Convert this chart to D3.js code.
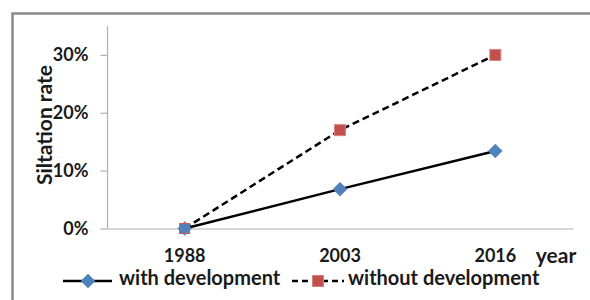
<!DOCTYPE html>
<html><head><meta charset="utf-8">
<script src="https://cdn.jsdelivr.net/npm/d3@7"></script>
<style>body{margin:0;background:#fff}svg{display:block}</style>
</head><body>
<script>
const years = ["1988", "2003", "2016"];
const withDev = [0, 0.068, 0.134];
const withoutDev = [0, 0.17, 0.30];
const yTicks = [0, 0.1, 0.2, 0.3];
const seriesNames = ["with development", "without development"];

const W = 590, H = 300;
const svg = d3.select("body").append("svg").attr("width", W).attr("height", H);
const font = "Lato, 'Open Sans', sans-serif";

// frame
svg.append("path").attr("d", `M12.5,${H} L12.5,13.5 L${W},13.5`)
  .attr("fill", "none").attr("stroke", "#8a8a8a").attr("stroke-width", 2.5);

const x = d3.scaleBand().domain(years).range([107, 573]);
const y = d3.scaleLinear().domain([0, 0.35]).range([228.5, 26]);
const cx = d => x(d) + x.bandwidth() / 2;

// y axis
const yAxis = svg.append("g").attr("transform", "translate(107.5,0)")
  .call(d3.axisLeft(y).tickValues(yTicks).tickFormat(d3.format(".0%")).tickSize(7).tickPadding(12));
yAxis.select(".domain").attr("stroke", "#b0b0b0").attr("stroke-width", 1.2).attr("d", `M-0,${y(0.35)}V${y(0)}`);
yAxis.selectAll(".tick line").attr("stroke", "#b0b0b0").attr("stroke-width", 1.2);
yAxis.selectAll(".tick text").attr("font-family", font).attr("font-weight", "bold")
  .attr("font-size", 18).attr("fill", "#1a1a1a");

// x axis
const xAxis = svg.append("g").attr("transform", `translate(0,${y(0)})`)
  .call(d3.axisBottom(x).tickSize(0).tickPadding(21));
xAxis.select(".domain").attr("stroke", "#b0b0b0").attr("stroke-width", 1.2);
xAxis.selectAll(".tick text").attr("font-family", font).attr("font-weight", "bold")
  .attr("font-size", 18).attr("fill", "#1a1a1a");

svg.append("text").attr("x", 556).attr("y", 263).attr("text-anchor", "middle")
  .attr("font-family", font).attr("font-weight", "bold").attr("font-size", 21).attr("fill", "#1a1a1a")
  .text("year");

svg.append("text").attr("transform", "translate(52,125) rotate(-90)").attr("text-anchor", "middle")
  .attr("font-family", font).attr("font-weight", "bold").attr("font-size", 21).attr("fill", "#1a1a1a")
  .text("Siltation rate");

const line = d3.line().x((d, i) => cx(years[i])).y(d => y(d));

svg.append("path").datum(withoutDev).attr("d", line).attr("fill", "none")
  .attr("stroke", "#000").attr("stroke-width", 2.5).attr("stroke-dasharray", "7,4");
svg.append("path").datum(withDev).attr("d", line).attr("fill", "none")
  .attr("stroke", "#000").attr("stroke-width", 2.5);

const sq = 11;
function square(g, px, py) {
  g.append("rect").attr("x", px - sq / 2).attr("y", py - sq / 2).attr("width", sq).attr("height", sq)
    .attr("fill", "#c0504d").attr("stroke", "#d9817f").attr("stroke-width", 1);
}
function diamond(g, px, py) {
  const r = 7;
  g.append("path").attr("d", `M${px},${py - r}L${px + r},${py}L${px},${py + r}L${px - r},${py}Z`)
    .attr("fill", "#4f81bd").attr("stroke", "#4f81bd").attr("stroke-width", 0.5);
}
const mk = svg.append("g");
withDev.forEach((v, i) => diamond(mk, cx(years[i]), y(v)));
withoutDev.forEach((v, i) => { if (i > 0) square(mk, cx(years[i]), y(v)); });
// overlapping point at 1988
mk.append("rect").attr("x", cx(years[0]) - 5).attr("y", y(withoutDev[0]) - 5).attr("width", 10).attr("height", 10)
  .attr("fill", "#4f81bd").attr("stroke", "#d05a57").attr("stroke-width", 1);

// legend
const lg = svg.append("g");
const ly = 281;
lg.append("line").attr("x1", 63).attr("x2", 112).attr("y1", ly).attr("y2", ly).attr("stroke", "#000").attr("stroke-width", 2.5);
diamond(lg, 88, ly);
lg.append("text").attr("x", 119).attr("y", ly + 4).attr("font-family", font).attr("font-weight", "bold")
  .attr("font-size", 20).attr("fill", "#1a1a1a").text(seriesNames[0]);
lg.append("line").attr("x1", 292).attr("x2", 344).attr("y1", ly).attr("y2", ly).attr("stroke", "#000")
  .attr("stroke-width", 2.5).attr("stroke-dasharray", "6,4");
square(lg, 318, ly);
lg.append("text").attr("x", 348).attr("y", ly + 4).attr("font-family", font).attr("font-weight", "bold")
  .attr("font-size", 20).attr("fill", "#1a1a1a").text(seriesNames[1]);
</script>
</body></html>
